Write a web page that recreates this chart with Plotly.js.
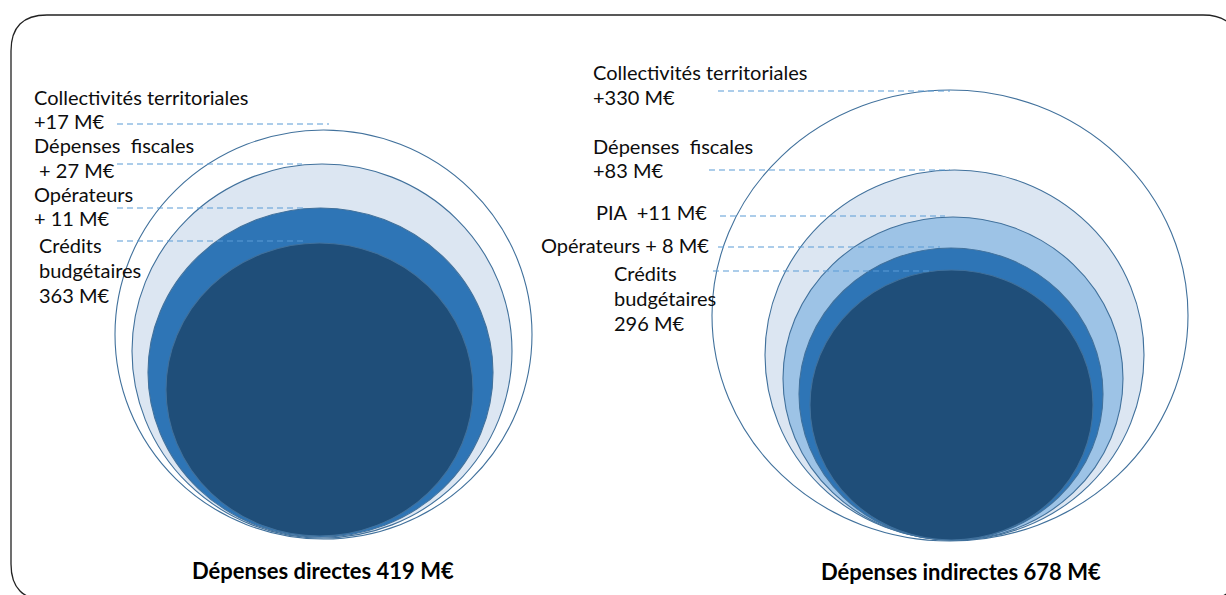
<!DOCTYPE html>
<html>
<head>
<meta charset="utf-8">
<script src="https://cdn.plot.ly/plotly-3.0.1.min.js"></script>
<style>
  html, body { margin: 0; padding: 0; background: #ffffff; }
  #chart { width: 1226px; height: 595px; }
</style>
</head>
<body>
<div id="chart"></div>
<script>
// ---------------- DATA ----------------
// Left diagram: direct spending (M€), from the innermost ring outward
const leftCategories = ['Crédits budgétaires', 'Opérateurs', 'Dépenses fiscales', 'Collectivités territoriales'];
const leftValues = [363, 11, 27, 17];
const leftTotal = 419;
const leftTitle = 'Dépenses directes';

// Right diagram: indirect spending (M€), from the innermost ring outward
const rightCategories = ['Crédits budgétaires', 'Opérateurs', 'PIA', 'Dépenses fiscales', 'Collectivités territoriales'];
const rightValues = [296, 8, 11, 83, 330];
const rightTotal = 678;
const rightTitle = 'Dépenses indirectes';

// ---------------- LAYOUT / STYLE ----------------
const W = 1226, H = 595;
const FONT = 'Lato, "Open Sans", sans-serif';
const TXT = '#0d0d0d';
const OUTLINE = '#41719c';
const DASH = '#5b9bd5';
const LABEL_PX = 20;     // glyph size of the labels
const TITLE_SIZE = 22;

// ring fills from inner to outer
const leftFills = ['#1f4e79', '#2e75b6', '#dce6f2', '#ffffff'];
const rightFills = ['#1f4e79', '#2e75b6', '#9dc3e6', '#dce6f2', '#ffffff'];

// ring geometry in pixels (left edge, right edge, top, bottom), inner to outer
const leftRings = [[166, 473, 243, 536], [148, 493, 208, 537], [132, 512, 164, 538], [115, 532, 130, 539]];
const rightRings = [[810, 1093, 270, 540], [799, 1103, 248, 540], [783, 1123, 217, 540], [765, 1144, 170, 540], [712, 1188, 90, 541]];

// leader lines (y, x start, x end), inner to outer
const leftLeaders = [[241, 117, 303], [208, 117, 305], [164, 117, 302], [124, 117, 329]];
const rightLeaders = [[271, 713, 933], [247, 718, 940], [216, 720, 945], [170, 709, 950], [91, 718, 950]];

function fmt(v, spaced) { return '+' + (spaced ? ' ' : '') + v + ' M€'; }

// text blocks: [x, centre y, line spacing (px), lines]
const textBlocks = [
  [32, 157.5, 24.2, [leftCategories[3], fmt(leftValues[3], false), 'Dépenses  fiscales',
                     ' ' + fmt(leftValues[2], true), leftCategories[1], fmt(leftValues[1], true)]],
  [37, 270, 25, ['Crédits', 'budgétaires', leftValues[0] + ' M€']],
  [591, 84.5, 25, [rightCategories[4], fmt(rightValues[4], false)]],
  [591, 158, 24, ['Dépenses  fiscales', fmt(rightValues[3], false)]],
  [594, 212, 25, [rightCategories[2] + '  ' + fmt(rightValues[2], false)]],
  [539, 245, 25, [rightCategories[1] + ' + ' + rightValues[1] + ' M€']],
  [612, 298, 25, ['Crédits', 'budgétaires', rightValues[0] + ' M€']]
];

const shapes = [];
const annotations = [];

// rounded frame
(function () {
  const x0 = 11, y0 = 15, x1 = 1239, y1 = 600, r = 36;
  const p = `M ${x0 + r} ${y0} L ${x1 - r} ${y0} Q ${x1} ${y0} ${x1} ${y0 + r} L ${x1} ${y1 - r} Q ${x1} ${y1} ${x1 - r} ${y1} ` +
            `L ${x0 + r} ${y1} Q ${x0} ${y1} ${x0} ${y1 - r} L ${x0} ${y0 + r} Q ${x0} ${y0} ${x0 + r} ${y0} Z`;
  shapes.push({ type: 'path', xref: 'x', yref: 'y', path: p, line: { color: '#222222', width: 1.3 }, fillcolor: 'rgba(0,0,0,0)', layer: 'below' });
})();

function addRings(rings, fills) {
  for (let i = rings.length - 1; i >= 0; i--) {
    const g = rings[i];
    shapes.push({ type: 'circle', xref: 'x', yref: 'y', x0: g[0], x1: g[1], y0: g[2], y1: g[3],
      fillcolor: fills[i], line: { color: OUTLINE, width: 1.1 }, layer: 'above' });
  }
}
addRings(leftRings, leftFills);
addRings(rightRings, rightFills);

function addLeaders(leaders) {
  leaders.forEach(l => shapes.push({ type: 'line', xref: 'x', yref: 'y', x0: l[1], x1: l[2], y0: l[0], y1: l[0],
    line: { color: DASH, width: 1.1, dash: '6px,4px' }, layer: 'above' }));
}
addLeaders(leftLeaders);
addLeaders(rightLeaders);

// Plotly spaces lines by 1.3 x the annotation font size; glyphs are drawn at LABEL_PX via a span
textBlocks.forEach(b => {
  const html = b[3].map(s => `<span style="font-size:${LABEL_PX}px">${s.replace(/^ /, '&nbsp;').replace(/  /g, ' &nbsp;')}</span>`).join('<br>');
  annotations.push({
    x: b[0], y: b[1], xref: 'x', yref: 'y', text: html, showarrow: false, align: 'left',
    xanchor: 'left', yanchor: 'middle', font: { family: FONT, size: b[2] / 1.3, color: TXT }
  });
});

annotations.push({ x: 323, y: 570, xref: 'x', yref: 'y', text: '<b>' + leftTitle + ' ' + leftTotal + ' M€</b>', showarrow: false,
  xanchor: 'center', yanchor: 'middle', font: { family: FONT, size: TITLE_SIZE, color: '#000000' } });
annotations.push({ x: 961, y: 571, xref: 'x', yref: 'y', text: '<b>' + rightTitle + ' ' + rightTotal + ' M€</b>', showarrow: false,
  xanchor: 'center', yanchor: 'middle', font: { family: FONT, size: TITLE_SIZE, color: '#000000' } });

const layout = {
  width: W, height: H,
  margin: { l: 0, r: 0, t: 0, b: 0 },
  paper_bgcolor: '#ffffff', plot_bgcolor: '#ffffff',
  showlegend: false,
  xaxis: { range: [0, W], visible: false, fixedrange: true },
  yaxis: { range: [H, 0], visible: false, fixedrange: true },
  shapes: shapes,
  annotations: annotations
};

Plotly.newPlot('chart', [{ x: [], y: [], type: 'scatter', mode: 'markers', hoverinfo: 'skip' }], layout,
  { staticPlot: true, displayModeBar: false });
</script>
</body>
</html>
